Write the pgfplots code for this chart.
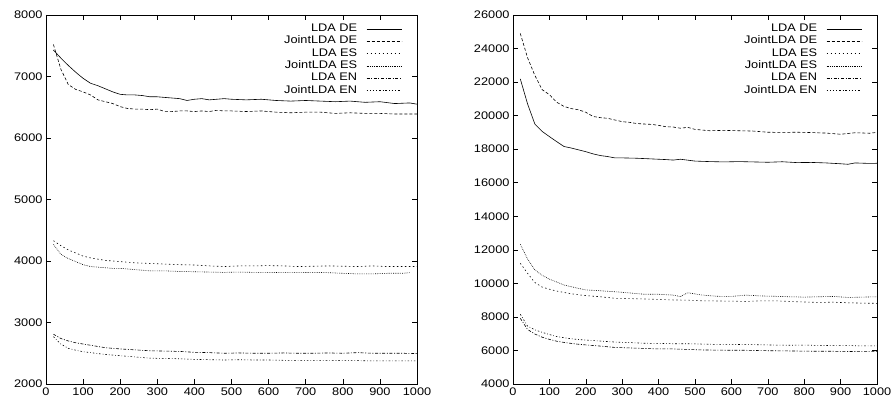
\documentclass[border=0pt]{standalone}
\usepackage{fontspec}
\setmainfont{Liberation Sans}[FakeStretch=1.16]
\usepackage{pgfplots}
\pgfplotsset{compat=1.18}

\tikzset{
  ldade/.style={black, line width=0.6pt},
  jointde/.style={black, line width=0.6pt, dash pattern=on 3pt off 2pt},
  ldaes/.style={black, line width=0.6pt, dash pattern=on 1.4pt off 2.6pt},
  jointes/.style={black, line width=0.6pt, dash pattern=on 0.7pt off 1.1pt},
  ldaen/.style={black, line width=0.6pt, dash pattern=on 3pt off 1.6pt on 1pt off 1.6pt},
  jointen/.style={black, line width=0.6pt, dash pattern=on 1.6pt off 2pt on 0.7pt off 2pt},
}

\pgfplotsset{
  gp/.style={
    scale only axis,
    anchor=south west,
    xmin=0, xmax=1000,
    xtick={0,100,...,1000},
    scaled x ticks=false, scaled y ticks=false,
    tick align=inside,
    major tick length=5pt,
    axis line style={line width=0.7pt},
    every tick/.style={black, line width=0.6pt},
    tick label style={font=\fontsize{11}{13}\selectfont},
    /pgf/number format/assume math mode=true,
    /pgf/number format/1000 sep={},
    legend plot pos=right,
    legend cell align=right,
    legend image code/.code={\draw[##1] (0pt,0pt) -- (35pt,0pt);},
    legend style={draw=none, fill=none, at={(1,1)}, anchor=north east,
      inner sep=0pt, xshift=-15pt, yshift=-9pt, font=\fontsize{11}{13}\selectfont,
      row sep=2.8pt, column sep=9pt,
      nodes={inner xsep=0pt, inner ysep=0pt, text height=7.5pt, text depth=2pt}},
  },
}

\begin{document}
\begin{tikzpicture}
\path[use as bounding box] (0,0) rectangle (891pt,403pt);

\begin{axis}[gp, at={(46pt,19pt)}, width=371pt, height=369pt,
  ymin=2000, ymax=8000, ytick={2000,3000,...,8000}]
\addplot[ldade] coordinates {
 (20,7430) (40,7300) (60,7180) (80,7070) (100,6970) (120,6890) (140,6850) (160,6800)
 (180,6750) (200,6710) (220,6700) (240,6700) (260,6690) (280,6670) (300,6670) (320,6660)
 (340,6650) (360,6640) (380,6610) (400,6630) (420,6640) (440,6620) (460,6630) (480,6640)
 (500,6630) (540,6620) (580,6630) (620,6610) (660,6600) (700,6610) (740,6600) (780,6590)
 (820,6600) (860,6580) (900,6590) (940,6560) (980,6570) (1000,6550)};
\addlegendentry{LDA DE}
\addplot[jointde] coordinates {
 (20,7520) (40,7120) (60,6870) (80,6790) (100,6750) (120,6700) (140,6620) (160,6590)
 (180,6560) (200,6510) (220,6480) (240,6470) (260,6470) (280,6460) (300,6470) (320,6430)
 (340,6430) (360,6440) (380,6440) (400,6430) (420,6440) (440,6430) (460,6450) (480,6440)
 (500,6440) (540,6430) (580,6440) (620,6420) (660,6410) (700,6420) (740,6420) (780,6400)
 (820,6410) (860,6400) (900,6400) (940,6390) (980,6390) (1000,6390)};
\addlegendentry{JointLDA DE}
\addplot[ldaes] coordinates {
 (20,4330) (40,4250) (60,4180) (80,4130) (100,4080) (120,4050) (140,4030) (160,4010)
 (180,4000) (200,3990) (240,3970) (280,3960) (320,3950) (360,3940) (400,3935) (440,3920)
 (480,3910) (520,3920) (560,3920) (600,3925) (640,3920) (680,3910) (720,3915) (760,3920)
 (800,3915) (840,3910) (880,3920) (920,3910) (960,3910) (1000,3910)};
\addlegendentry{LDA ES}
\addplot[jointes] coordinates {
 (20,4270) (40,4110) (60,4040) (80,3990) (100,3940) (120,3910) (140,3900) (160,3890)
 (180,3880) (200,3880) (240,3860) (280,3840) (320,3840) (360,3830) (400,3825) (440,3820)
 (480,3815) (520,3820) (560,3815) (600,3815) (640,3810) (680,3810) (720,3815) (760,3810)
 (800,3800) (840,3790) (880,3790) (920,3800) (960,3800) (980,3810)};
\addlegendentry{JointLDA ES}
\addplot[ldaen] coordinates {
 (20,2810) (40,2740) (60,2700) (80,2670) (100,2650) (120,2630) (140,2610) (160,2590)
 (180,2580) (200,2570) (240,2555) (280,2540) (320,2535) (360,2530) (400,2515) (440,2510)
 (480,2500) (520,2505) (560,2500) (600,2500) (640,2505) (680,2500) (720,2500) (760,2505)
 (800,2500) (840,2510) (880,2500) (920,2500) (960,2500) (1000,2495)};
\addlegendentry{LDA EN}
\addplot[jointen] coordinates {
 (20,2770) (40,2650) (60,2580) (80,2550) (100,2525) (120,2510) (140,2495) (160,2480)
 (180,2470) (200,2460) (240,2440) (280,2420) (320,2415) (360,2410) (400,2400) (440,2395)
 (480,2390) (520,2395) (560,2390) (600,2390) (640,2385) (680,2385) (720,2385) (760,2385)
 (800,2380) (840,2380) (880,2375) (920,2375) (960,2375) (1000,2375)};
\addlegendentry{JointLDA EN}
\end{axis}

\begin{axis}[gp, at={(513pt,19pt)}, width=364pt, height=369pt,
  ymin=4000, ymax=26000, ytick={4000,6000,...,26000}]
\addplot[ldade] coordinates {
 (20,22190) (40,20700) (60,19500) (80,19060) (100,18750) (120,18450) (140,18160) (160,18070)
 (180,17960) (200,17850) (220,17720) (240,17620) (260,17560) (280,17480) (300,17480) (340,17460)
 (380,17420) (420,17380) (440,17350) (460,17400) (500,17290) (540,17260) (580,17240) (620,17260)
 (660,17240) (700,17220) (740,17250) (780,17200) (820,17210) (860,17180) (900,17130) (920,17100)
 (940,17180) (980,17150) (1000,17160)};
\addlegendentry{LDA DE}
\addplot[jointde] coordinates {
 (20,24900) (40,23450) (60,22400) (80,21550) (100,21250) (120,20800) (140,20550) (160,20420)
 (180,20350) (200,20200) (220,19950) (240,19880) (260,19840) (280,19740) (300,19640) (320,19600)
 (340,19530) (360,19500) (380,19480) (400,19420) (420,19340) (440,19320) (460,19250) (480,19300)
 (500,19180) (540,19100) (580,19120) (620,19100) (660,19080) (700,19010) (740,19000) (780,19010)
 (820,18990) (860,18960) (900,18890) (940,18980) (980,18950) (1000,19000)};
\addlegendentry{JointLDA DE}
\addplot[ldaes] coordinates {
 (20,11200) (40,10600) (60,10050) (80,9780) (100,9650) (120,9540) (140,9460) (160,9380)
 (180,9320) (200,9270) (240,9200) (280,9110) (320,9090) (360,9070) (400,9040) (440,9010)
 (480,9000) (520,8960) (560,8950) (600,8940) (640,8920) (680,8960) (720,8960) (760,8920)
 (800,8890) (840,8860) (880,8880) (920,8840) (960,8820) (1000,8810)};
\addlegendentry{LDA ES}
\addplot[jointes] coordinates {
 (20,12330) (40,11450) (60,10800) (80,10480) (100,10250) (120,10080) (140,9900) (160,9800)
 (180,9700) (200,9610) (240,9560) (280,9500) (320,9430) (360,9350) (400,9350) (440,9300)
 (460,9210) (480,9440) (520,9300) (560,9230) (600,9220) (640,9300) (680,9250) (720,9230)
 (760,9200) (800,9180) (840,9200) (880,9220) (920,9160) (960,9180) (1000,9200)};
\addlegendentry{JointLDA ES}
\addplot[ldaen] coordinates {
 (20,7920) (40,7250) (60,6980) (80,6790) (100,6660) (120,6550) (140,6480) (160,6420)
 (180,6370) (200,6330) (240,6260) (280,6180) (320,6150) (360,6120) (400,6090) (440,6090)
 (480,6060) (520,6030) (560,6020) (600,6010) (640,6010) (680,5990) (720,5980) (760,5970)
 (800,5960) (840,5950) (880,5950) (920,5940) (960,5930) (1000,5930)};
\addlegendentry{LDA EN}
\addplot[jointen] coordinates {
 (20,8160) (40,7450) (60,7230) (80,7080) (100,6950) (120,6830) (140,6760) (160,6700)
 (180,6650) (200,6620) (240,6560) (280,6500) (320,6470) (360,6430) (400,6420) (440,6400)
 (480,6400) (520,6380) (560,6360) (600,6360) (640,6350) (680,6340) (720,6320) (760,6310)
 (800,6320) (840,6300) (880,6290) (920,6290) (960,6270) (1000,6270)};
\addlegendentry{JointLDA EN}
\end{axis}
\end{tikzpicture}
\end{document}
